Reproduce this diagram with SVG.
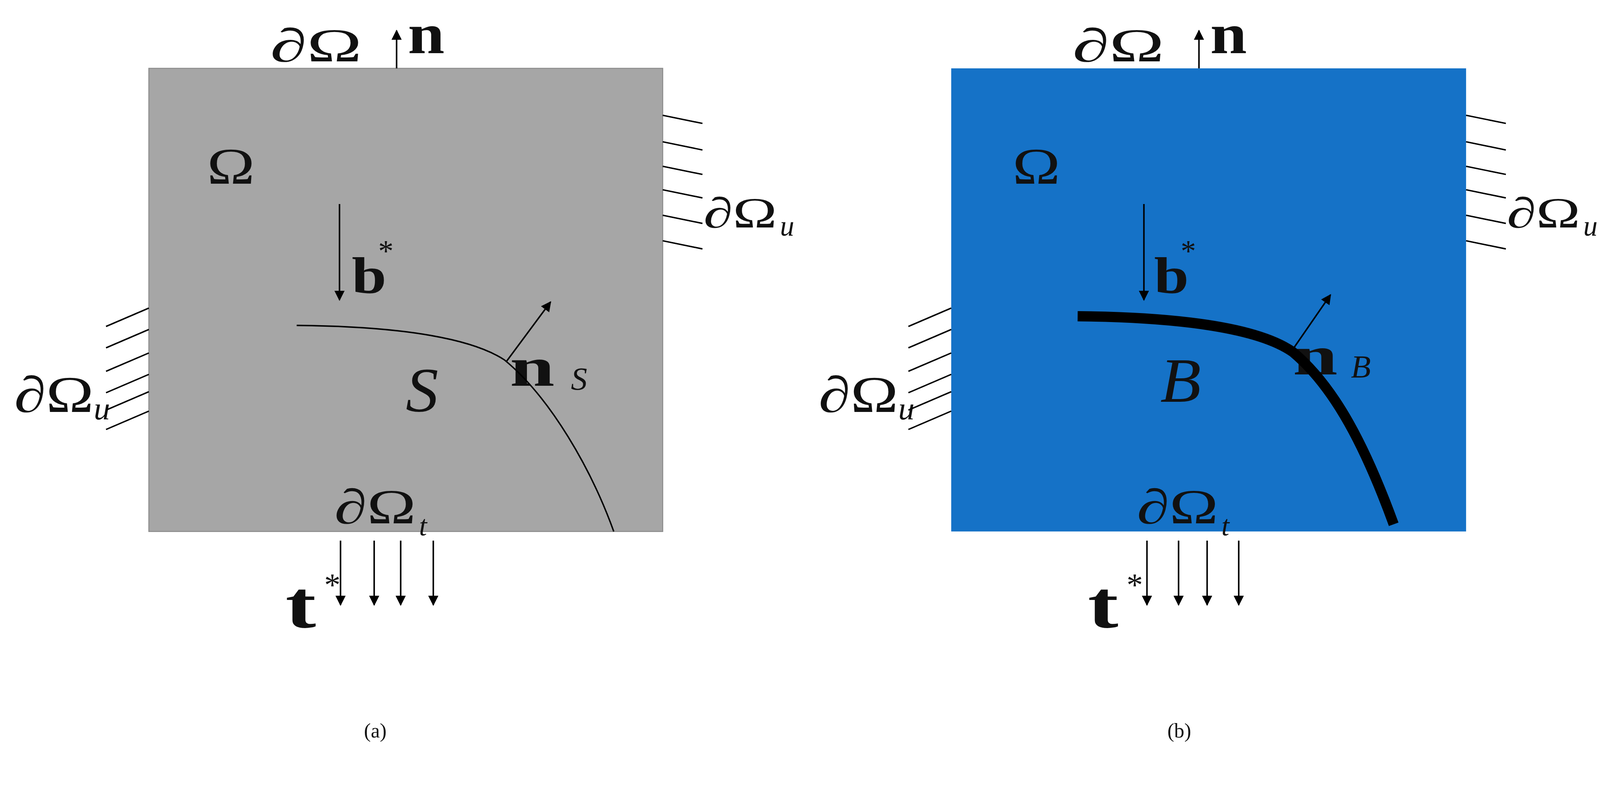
<svg xmlns="http://www.w3.org/2000/svg" width="4350" height="2052" viewBox="0 0 4350 2052">
<defs>
<marker id="ah" viewBox="0 0 10 10" refX="9" refY="5" markerWidth="10" markerHeight="10" markerUnits="userSpaceOnUse" orient="auto"><path d="M0,0 L10,5 L0,10 z" fill="#000"/></marker>
<style>
text{font-family:"Liberation Serif","Times New Roman",serif;fill:#111}
.b{font-weight:bold}
.i{font-style:italic}
.ln{stroke:#000;stroke-width:1.4;fill:none}
.ar{stroke:#000;stroke-width:1.5;fill:none;marker-end:url(#ah)}
</style>
</defs>
<rect width="4350" height="2052" fill="#fff"/>
<g transform="scale(2.61)">
<g id="panel-a">
<rect x="146" y="67" width="504" height="454" fill="#a6a6a6" stroke="#8c8c8c" stroke-width="1"/>
<g id="a-labels">
<text x="265" y="60" font-size="46" textLength="90" lengthAdjust="spacingAndGlyphs">∂Ω</text>
<text x="400" y="52" font-size="56" class="b" textLength="36" lengthAdjust="spacingAndGlyphs">n</text>
<text x="203" y="180" font-size="50" textLength="47" lengthAdjust="spacingAndGlyphs">Ω</text>
<text x="345" y="287" font-size="50" class="b" textLength="34" lengthAdjust="spacingAndGlyphs">b</text>
<text x="371" y="256" font-size="30">*</text>
<text x="500" y="378" font-size="54" class="b" textLength="44" lengthAdjust="spacingAndGlyphs">n</text>
<text x="560" y="382" font-size="32" class="i">S</text>
<text x="398" y="403" font-size="62" class="i" textLength="32" lengthAdjust="spacingAndGlyphs">S</text>
<text x="14" y="404" font-size="50" textLength="78" lengthAdjust="spacingAndGlyphs">∂Ω</text>
<text x="92" y="411" font-size="32" class="i">u</text>
<text x="690" y="223" font-size="42" textLength="72" lengthAdjust="spacingAndGlyphs">∂Ω</text>
<text x="765" y="231" font-size="28" class="i">u</text>
<text x="328" y="513" font-size="48" textLength="80" lengthAdjust="spacingAndGlyphs">∂Ω</text>
<text x="411" y="525" font-size="28" class="i">t</text>
<text x="280" y="615" font-size="66" class="b" textLength="30" lengthAdjust="spacingAndGlyphs">t</text>
<text x="318" y="584" font-size="32">*</text>
<text x="357" y="723" font-size="20">(a)</text>
</g>
</g>
<g id="panel-b">
<rect x="933" y="67" width="505" height="454" fill="#1572c7"/>
<g id="b-labels">
<text x="1052" y="60" font-size="46" textLength="90" lengthAdjust="spacingAndGlyphs">∂Ω</text>
<text x="1187" y="52" font-size="56" class="b" textLength="36" lengthAdjust="spacingAndGlyphs">n</text>
<text x="993" y="180" font-size="50" textLength="47" lengthAdjust="spacingAndGlyphs">Ω</text>
<text x="1132" y="287" font-size="50" class="b" textLength="34" lengthAdjust="spacingAndGlyphs">b</text>
<text x="1158" y="256" font-size="30">*</text>
<text x="1268" y="367" font-size="54" class="b" textLength="44" lengthAdjust="spacingAndGlyphs">n</text>
<text x="1325" y="370" font-size="32" class="i">B</text>
<text x="1138" y="394" font-size="62" class="i" textLength="40" lengthAdjust="spacingAndGlyphs">B</text>
<text x="803" y="404" font-size="50" textLength="78" lengthAdjust="spacingAndGlyphs">∂Ω</text>
<text x="881" y="411" font-size="32" class="i">u</text>
<text x="1478" y="223" font-size="42" textLength="72" lengthAdjust="spacingAndGlyphs">∂Ω</text>
<text x="1553" y="231" font-size="28" class="i">u</text>
<text x="1115" y="513" font-size="48" textLength="80" lengthAdjust="spacingAndGlyphs">∂Ω</text>
<text x="1198" y="525" font-size="28" class="i">t</text>
<text x="1067" y="615" font-size="66" class="b" textLength="30" lengthAdjust="spacingAndGlyphs">t</text>
<text x="1105" y="584" font-size="32">*</text>
<text x="1145" y="723" font-size="20">(b)</text>
</g>
</g>
<g id="connectors">
<path class="ln" d="M291,319 C400,320 465,333 495,353 C540,390 580,460 602,521"/>
<path d="M1057,310 C1160,311 1235,322 1268,345 C1310,380 1340,440 1367,514" stroke="#000" stroke-width="10" fill="none"/>
<line class="ar" x1="389" y1="67" x2="389" y2="30"/>
<line class="ar" x1="333" y1="200" x2="333" y2="294"/>
<line class="ar" x1="497" y1="354" x2="540" y2="296"/>
<line class="ar" x1="334" y1="530" x2="334" y2="593"/>
<line class="ar" x1="367" y1="530" x2="367" y2="593"/>
<line class="ar" x1="393" y1="530" x2="393" y2="593"/>
<line class="ar" x1="425" y1="530" x2="425" y2="593"/>
<line class="ar" x1="1176" y1="67" x2="1176" y2="30"/>
<line class="ar" x1="1122" y1="200" x2="1122" y2="294"/>
<line class="ar" x1="1267" y1="344" x2="1305" y2="289"/>
<line class="ar" x1="1125" y1="530" x2="1125" y2="593"/>
<line class="ar" x1="1156" y1="530" x2="1156" y2="593"/>
<line class="ar" x1="1184" y1="530" x2="1184" y2="593"/>
<line class="ar" x1="1215" y1="530" x2="1215" y2="593"/>
<g id="hatch-a">
<path class="ln" d="M146,302 L104,320 M146,323 L104,341 M146,346 L104,364 M146,367 L104,385 M146,384 L104,402 M146,403 L104,421"/>
<path class="ln" d="M650,113 L689,121 M650,139 L689,147 M650,163 L689,171 M650,186 L689,194 M650,211 L689,219 M650,236 L689,244"/>
</g>
<g id="hatch-b">
<path class="ln" d="M933,302 L891,320 M933,323 L891,341 M933,346 L891,364 M933,367 L891,385 M933,384 L891,402 M933,403 L891,421"/>
<path class="ln" d="M1438,113 L1477,121 M1438,139 L1477,147 M1438,163 L1477,171 M1438,186 L1477,194 M1438,211 L1477,219 M1438,236 L1477,244"/>
</g>
</g>
</g>
</svg>
